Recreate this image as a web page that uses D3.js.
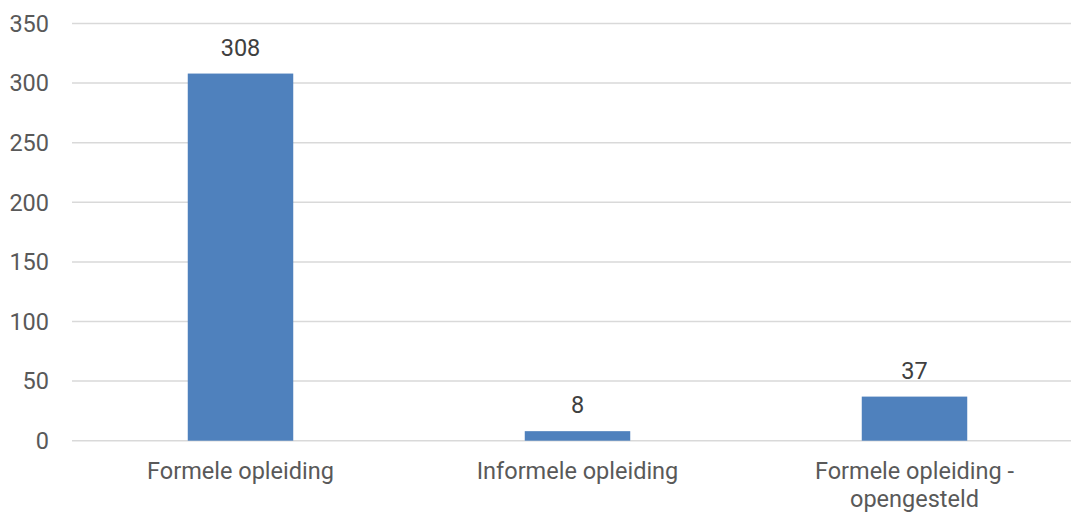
<!DOCTYPE html>
<html>
<head>
<meta charset="utf-8">
<script src="https://cdn.jsdelivr.net/npm/d3@7"></script>
<style>
  body { margin: 0; background: #fff; }
  text { font-family: Roboto, "Noto Sans", sans-serif; }
</style>
</head>
<body>
<div id="chart"></div>
<script>
const categories = ['Formele opleiding', 'Informele opleiding', 'Formele opleiding - opengesteld'];
const values = [308, 8, 37];
const yTicks = [0, 50, 100, 150, 200, 250, 300, 350];

const width = 1071;
const height = 513;
const margin = { top: 23.5, right: -12, bottom: 72.3, left: 72 };

const svg = d3.select('#chart')
  .append('svg')
  .attr('width', width)
  .attr('height', height);

const x = d3.scaleBand()
  .domain(categories)
  .range([margin.left, width - margin.right])
  .paddingInner(0.687)
  .paddingOuter(0.687 / 2);

const y = d3.scaleLinear()
  .domain([0, 350])
  .range([height - margin.bottom, margin.top]);

// gridlines
svg.append('g')
  .selectAll('line')
  .data(yTicks)
  .enter()
  .append('line')
  .attr('x1', margin.left)
  .attr('x2', width - margin.right)
  .attr('y1', d => y(d))
  .attr('y2', d => y(d))
  .attr('stroke', '#d9d9d9')
  .attr('stroke-width', 1.5);

// y tick labels
svg.append('g')
  .selectAll('text')
  .data(yTicks)
  .enter()
  .append('text')
  .attr('x', 49)
  .attr('y', d => y(d))
  .attr('dy', '0.35em')
  .attr('text-anchor', 'end')
  .style('font-size', '23.5px')
  .style('fill', '#595959')
  .text(d => d);

// bars
svg.append('g')
  .selectAll('rect')
  .data(values)
  .enter()
  .append('rect')
  .attr('x', (d, i) => x(categories[i]))
  .attr('width', x.bandwidth())
  .attr('y', d => y(d))
  .attr('height', d => y(0) - y(d))
  .attr('fill', '#4f81bd');

// value labels
svg.append('g')
  .selectAll('text')
  .data(values)
  .enter()
  .append('text')
  .attr('x', (d, i) => x(categories[i]) + x.bandwidth() / 2)
  .attr('y', d => y(d) - 18)
  .attr('text-anchor', 'middle')
  .style('font-size', '23.5px')
  .style('fill', '#404040')
  .text(d => d);

// category labels (wrapped like the original)
const wrapped = {
  'Formele opleiding - opengesteld': ['Formele opleiding -', 'opengesteld']
};
svg.append('g')
  .selectAll('text')
  .data(categories)
  .enter()
  .append('text')
  .attr('x', d => x(d) + x.bandwidth() / 2)
  .attr('y', 479)
  .attr('text-anchor', 'middle')
  .style('font-size', '23.5px')
  .style('fill', '#595959')
  .each(function (d) {
    const lines = wrapped[d] || [d];
    const t = d3.select(this);
    lines.forEach((line, i) => {
      t.append('tspan')
        .attr('x', x(d) + x.bandwidth() / 2)
        .attr('dy', i === 0 ? 0 : 27.5)
        .text(line);
    });
  });
</script>
</body>
</html>
